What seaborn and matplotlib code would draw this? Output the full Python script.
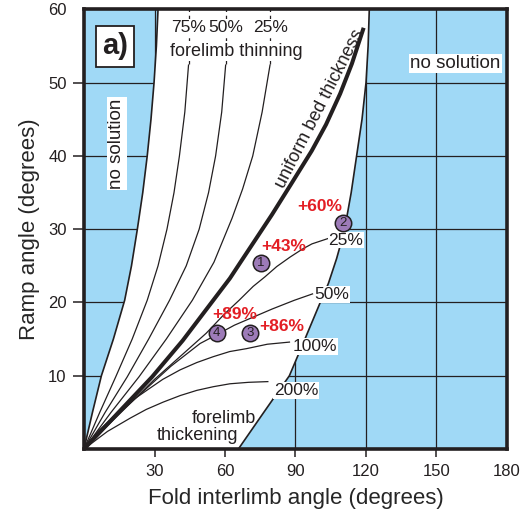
import matplotlib
matplotlib.use("Agg")
import matplotlib.pyplot as plt
import seaborn as sns
import numpy as np

# ---------------- data ----------------
# boundaries of the solution field
left_x = [0, 3.6, 7.4, 12.5, 17.3, 20.2, 22.7, 25, 26.9, 28.5, 29.8, 30.8, 31.5]
left_y = [0, 5, 10, 15, 20.3, 25, 30, 35, 40, 45, 50, 55, 60]
right_x = [65.7, 76.5, 87.4, 94, 100.4, 104, 107.5, 110.8, 113.7, 116, 118.3, 120, 120.9, 121.4]
right_y = [0, 5, 10, 15, 19.9, 22.6, 26, 29.8, 35, 40, 45, 50, 55, 60]

# uniform bed thickness (thick line)
uni_x = [0, 15, 29, 42, 55, 62.1, 66.4, 73, 80, 88, 96.9, 103, 109, 114, 119]
uni_y = [0, 5.1, 9.85, 14.8, 20.3, 23.3, 25.4, 28.6, 32, 36.1, 40.7, 44.3, 48.5, 52.6, 57.5]

# forelimb thinning curves
thin75_x = [0, 6.7, 13.5, 20.5, 26.9, 31.5, 35.3, 38.3, 40.6, 42.9, 44.5]
thin75_y = [0, 5, 9.85, 15, 20.3, 25, 30, 35, 40, 46, 52.5]
thin50_x = [0, 9, 18.4, 27.5, 36.4, 43.5, 49, 53, 56, 58.6, 60.3]
thin50_y = [0, 5, 9.85, 15, 20.3, 25, 30, 35, 40, 46, 52.5]
thin25_x = [0, 11.5, 23.4, 35, 46.1, 55.3, 63, 67.5, 71.8, 75.8, 79.2]
thin25_y = [0, 5, 9.85, 15, 20.3, 25.5, 31.5, 35.5, 40, 46, 52.5]
thin_labels = ["75%", "50%", "25%"]

# forelimb thickening curves
thk25_x = [0, 30, 52, 60, 66, 72, 77, 82, 87.7, 93, 97, 104.5]
thk25_y = [0, 9.5, 15.8, 18.5, 20.3, 22.2, 23.5, 24.9, 26.2, 27.3, 28, 28.8]
thk50_x = [0, 12, 25, 37, 49.4, 56.5, 64, 72, 80, 89.5, 97.5]
thk50_y = [0, 4, 7.8, 11.3, 14.4, 15.6, 16.9, 18, 19.1, 20.3, 21.2]
thk100_x = [0, 6, 12.5, 19.5, 26.7, 33.5, 40.9, 48, 55, 62, 69.2, 78, 87.7]
thk100_y = [0, 2.4, 4.4, 6.4, 8.0, 9.5, 10.8, 11.8, 12.6, 13.3, 13.7, 14.3, 14.6]
thk200_x = [0, 10, 19.6, 26.5, 33.7, 41, 48, 55, 62.1, 70, 78.5]
thk200_y = [0, 2.4, 4.2, 5.4, 6.4, 7.3, 8.0, 8.5, 8.9, 9.1, 9.2]

# example points
pt_x = [75.2, 110.3, 70.6, 56.5]
pt_y = [25.4, 30.8, 15.8, 15.8]
pt_num = ["1", "2", "3", "4"]
pt_pct = ["+43%", "+60%", "+86%", "+89%"]
pct_x = [84.8, 100.4, 84.1, 64.3]
pct_y = [27.6, 33.1, 16.7, 18.4]

xticks = [30, 60, 90, 120, 150, 180]
yticks = [10, 20, 30, 40, 50, 60]

# ---------------- styling ----------------
BLUE = "#a0d9f6"
INK = "#231f20"
PURPLE = "#9d7bb8"
RED = "#e31e24"

sns.set_theme(style="white")
plt.rcParams["font.family"] = ["Liberation Sans", "DejaVu Sans"]
plt.rcParams["text.color"] = INK

fig = plt.figure(figsize=(5.29, 5.15), dpi=100)
ax = fig.add_axes([0.1588, 0.1282, 0.7996, 0.8534])
ax.set_xlim(0, 180)
ax.set_ylim(0, 60)
ax.set_facecolor(BLUE)

# grid (only visible in the blue no-solution fields)
for gx in xticks[:-1]:
    ax.axvline(gx, color=INK, lw=0.9, zorder=1)
for gy in yticks[:-1]:
    ax.axhline(gy, color=INK, lw=0.9, zorder=1)

# white solution field
ax.fill(np.r_[left_x, right_x[::-1]], np.r_[left_y, right_y[::-1]],
        color="white", zorder=2, lw=0)

def curve(xs, ys, lw):
    sns.lineplot(x=xs, y=ys, sort=False, estimator=None, color=INK,
                 lw=lw, ax=ax, zorder=3, solid_capstyle="butt",
                 solid_joinstyle="round")

curve(left_x, left_y, 1.2)
curve(right_x, right_y, 1.2)
for xs, ys in [(thin75_x, thin75_y), (thin50_x, thin50_y), (thin25_x, thin25_y),
               (thk25_x, thk25_y), (thk50_x, thk50_y), (thk100_x, thk100_y),
               (thk200_x, thk200_y)]:
    curve(xs, ys, 0.9)
curve(uni_x, uni_y, 2.9)

# dashed continuation of thinning curves to the top + labels
for xs, ys, lab in zip([thin75_x, thin50_x, thin25_x],
                       [thin75_y, thin50_y, thin25_y], thin_labels):
    ax.plot([xs[-1], xs[-1]], [ys[-1], 60], color=INK, lw=0.9,
            ls=(0, (3, 3)), zorder=3)
    ax.text(xs[-1], 57.6, lab, ha="center", va="center", fontsize=12.5,
            zorder=5, bbox=dict(facecolor="white", edgecolor="none", pad=0.5))
ax.text(65, 54.3, "forelimb thinning", ha="center", va="center", fontsize=13,
        zorder=5, bbox=dict(facecolor="white", edgecolor="none", pad=1))

# thickening labels
for tx, ty, lab in [(111.5, 28.5, "25%"), (105.5, 21.1, "50%"),
                    (98.3, 14.0, "100%"), (90.2, 8.0, "200%")]:
    ax.text(tx, ty, lab, ha="center", va="center", fontsize=12.5, zorder=5,
            bbox=dict(facecolor="white", edgecolor="none", pad=0.5))
ax.text(59.6, 4.2, "forelimb", ha="center", va="center", fontsize=13, zorder=5)
ax.text(48.1, 1.8, "thickening", ha="center", va="center", fontsize=13, zorder=5)

ax.text(100.4, 46.5, "uniform bed thickness", ha="center", va="center",
        fontsize=13, rotation=63, zorder=5)

# no solution labels
ax.text(14.0, 41.7, "no solution", ha="center", va="center", fontsize=13.5,
        rotation=90, zorder=5,
        bbox=dict(facecolor="white", edgecolor="none", pad=1))
ax.text(157.9, 52.6, "no solution", ha="center", va="center", fontsize=13.5,
        zorder=5, bbox=dict(facecolor="white", edgecolor="none", pad=1))

# panel label
ax.text(13.2, 55.0, "a)", ha="center", va="center", fontsize=21,
        fontweight="bold", zorder=5,
        bbox=dict(facecolor="white", edgecolor=INK, lw=1.3,
                  boxstyle="square,pad=0.22"))

# example points
sns.scatterplot(x=pt_x, y=pt_y, s=140, color=PURPLE, edgecolor=INK,
                linewidth=1.1, zorder=6, ax=ax)
for x, y, n in zip(pt_x, pt_y, pt_num):
    ax.text(x, y, n, ha="center", va="center", fontsize=9.5, zorder=7, color=INK)
for x, y, p in zip(pct_x, pct_y, pt_pct):
    ax.text(x, y, p, ha="center", va="center", fontsize=12.5,
            fontweight="bold", color=RED, zorder=7)

# axes, ticks
ax.set_xticks(xticks)
ax.set_yticks(yticks)
ax.tick_params(axis="x", direction="out", length=6, width=1.1, color=INK,
               labelsize=12, pad=4.5, labelcolor=INK, bottom=True)
ax.tick_params(axis="y", direction="out", length=8, width=1.1, color=INK,
               labelsize=12, pad=4.5, labelcolor=INK, left=True)
ax.xaxis.get_major_ticks()[-1].tick1line.set_visible(False)
ax.yaxis.get_major_ticks()[-1].tick1line.set_visible(False)
for s in ax.spines.values():
    s.set_visible(True)
    s.set_color(INK)
    s.set_linewidth(2.6)
    s.set_zorder(8)
ax.set_xlabel("Fold interlimb angle (degrees)", fontsize=16, labelpad=7)
ax.set_ylabel("Ramp angle (degrees)", fontsize=16, labelpad=6)

fig.savefig("out.png", dpi=100)
